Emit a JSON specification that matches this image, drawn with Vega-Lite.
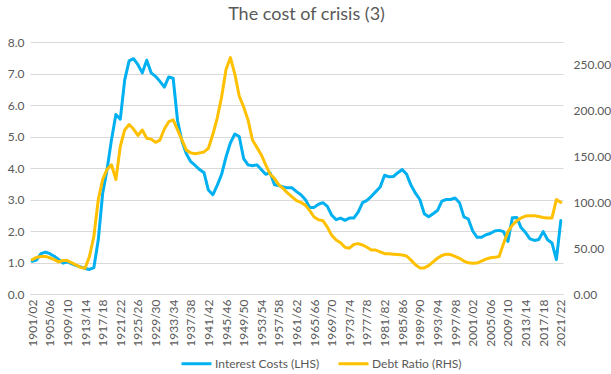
{
  "$schema": "https://vega.github.io/schema/vega-lite/v6.json",
  "width": 533,
  "height": 252,
  "autosize": {"type": "none"},
  "padding": {"left": 30, "top": 42, "right": 48, "bottom": 80},
  "background": "white",
  "title": {"text": "The cost of crisis (3)", "fontSize": 18, "font": "Lato", "fontWeight": "normal", "color": "#595959", "offset": 12, "dx": 10},
  "config": {
    "font": "Lato",
    "view": {"stroke": null},
    "axis": {"labelColor": "#595959", "labelFontSize": 12, "labelFont": "Lato", "ticks": false, "title": null},
    "legend": {"labelColor": "#595959", "labelFontSize": 12, "labelFont": "Lato"}
  },
  "data": {"values": [
    {"year": "1901/02", "ic": 1.04, "dr": 37.5},
    {"year": "1902/03", "ic": 1.08, "dr": 40},
    {"year": "1903/04", "ic": 1.28, "dr": 41},
    {"year": "1904/05", "ic": 1.33, "dr": 41},
    {"year": "1905/06", "ic": 1.28, "dr": 39.5},
    {"year": "1906/07", "ic": 1.2, "dr": 37.5},
    {"year": "1907/08", "ic": 1.1, "dr": 35},
    {"year": "1908/09", "ic": 0.98, "dr": 36.5},
    {"year": "1909/10", "ic": 1.02, "dr": 36.5},
    {"year": "1910/11", "ic": 0.96, "dr": 34},
    {"year": "1911/12", "ic": 0.9, "dr": 31.5},
    {"year": "1912/13", "ic": 0.86, "dr": 29},
    {"year": "1913/14", "ic": 0.81, "dr": 28},
    {"year": "1914/15", "ic": 0.78, "dr": 41},
    {"year": "1915/16", "ic": 0.84, "dr": 63},
    {"year": "1916/17", "ic": 1.72, "dr": 103},
    {"year": "1917/18", "ic": 3.2, "dr": 125},
    {"year": "1918/19", "ic": 3.95, "dr": 136},
    {"year": "1919/20", "ic": 4.9, "dr": 141},
    {"year": "1920/21", "ic": 5.7, "dr": 125},
    {"year": "1921/22", "ic": 5.55, "dr": 161},
    {"year": "1922/23", "ic": 6.8, "dr": 179},
    {"year": "1923/24", "ic": 7.4, "dr": 185},
    {"year": "1924/25", "ic": 7.47, "dr": 180},
    {"year": "1925/26", "ic": 7.28, "dr": 173},
    {"year": "1926/27", "ic": 7.02, "dr": 179},
    {"year": "1927/28", "ic": 7.42, "dr": 170},
    {"year": "1928/29", "ic": 7.02, "dr": 169},
    {"year": "1929/30", "ic": 6.91, "dr": 165.5},
    {"year": "1930/31", "ic": 6.75, "dr": 168},
    {"year": "1931/32", "ic": 6.57, "dr": 180},
    {"year": "1932/33", "ic": 6.89, "dr": 188},
    {"year": "1933/34", "ic": 6.85, "dr": 190},
    {"year": "1934/35", "ic": 5.5, "dr": 179},
    {"year": "1935/36", "ic": 4.85, "dr": 168},
    {"year": "1936/37", "ic": 4.45, "dr": 157},
    {"year": "1937/38", "ic": 4.2, "dr": 154},
    {"year": "1938/39", "ic": 4.08, "dr": 153},
    {"year": "1939/40", "ic": 3.95, "dr": 154},
    {"year": "1940/41", "ic": 3.85, "dr": 155},
    {"year": "1941/42", "ic": 3.3, "dr": 159},
    {"year": "1942/43", "ic": 3.15, "dr": 174},
    {"year": "1943/44", "ic": 3.45, "dr": 192},
    {"year": "1944/45", "ic": 3.8, "dr": 215},
    {"year": "1945/46", "ic": 4.35, "dr": 245},
    {"year": "1946/47", "ic": 4.8, "dr": 258},
    {"year": "1947/48", "ic": 5.08, "dr": 240},
    {"year": "1948/49", "ic": 5.0, "dr": 216},
    {"year": "1949/50", "ic": 4.3, "dr": 204},
    {"year": "1950/51", "ic": 4.1, "dr": 190},
    {"year": "1951/52", "ic": 4.07, "dr": 168},
    {"year": "1952/53", "ic": 4.1, "dr": 160},
    {"year": "1953/54", "ic": 3.95, "dr": 152},
    {"year": "1954/55", "ic": 3.8, "dr": 141},
    {"year": "1955/56", "ic": 3.85, "dr": 131},
    {"year": "1956/57", "ic": 3.47, "dr": 126},
    {"year": "1957/58", "ic": 3.44, "dr": 119},
    {"year": "1958/59", "ic": 3.4, "dr": 115},
    {"year": "1959/60", "ic": 3.37, "dr": 110},
    {"year": "1960/61", "ic": 3.37, "dr": 106},
    {"year": "1961/62", "ic": 3.25, "dr": 102},
    {"year": "1962/63", "ic": 3.15, "dr": 100},
    {"year": "1963/64", "ic": 3.0, "dr": 97},
    {"year": "1964/65", "ic": 2.75, "dr": 91},
    {"year": "1965/66", "ic": 2.75, "dr": 84},
    {"year": "1966/67", "ic": 2.85, "dr": 81},
    {"year": "1967/68", "ic": 2.9, "dr": 80},
    {"year": "1968/69", "ic": 2.78, "dr": 73},
    {"year": "1969/70", "ic": 2.5, "dr": 64},
    {"year": "1970/71", "ic": 2.36, "dr": 59},
    {"year": "1971/72", "ic": 2.41, "dr": 56},
    {"year": "1972/73", "ic": 2.34, "dr": 51},
    {"year": "1973/74", "ic": 2.41, "dr": 50},
    {"year": "1974/75", "ic": 2.41, "dr": 54},
    {"year": "1975/76", "ic": 2.6, "dr": 55},
    {"year": "1976/77", "ic": 2.9, "dr": 53.5},
    {"year": "1977/78", "ic": 2.97, "dr": 51},
    {"year": "1978/79", "ic": 3.1, "dr": 48},
    {"year": "1979/80", "ic": 3.25, "dr": 48},
    {"year": "1980/81", "ic": 3.4, "dr": 46},
    {"year": "1981/82", "ic": 3.77, "dr": 44},
    {"year": "1982/83", "ic": 3.72, "dr": 44},
    {"year": "1983/84", "ic": 3.73, "dr": 43.5},
    {"year": "1984/85", "ic": 3.85, "dr": 43},
    {"year": "1985/86", "ic": 3.95, "dr": 42.5},
    {"year": "1986/87", "ic": 3.8, "dr": 41.5},
    {"year": "1987/88", "ic": 3.45, "dr": 37},
    {"year": "1988/89", "ic": 3.2, "dr": 32},
    {"year": "1989/90", "ic": 3.0, "dr": 28.5},
    {"year": "1990/91", "ic": 2.55, "dr": 28.5},
    {"year": "1991/92", "ic": 2.45, "dr": 31},
    {"year": "1992/93", "ic": 2.55, "dr": 35},
    {"year": "1993/94", "ic": 2.65, "dr": 39},
    {"year": "1994/95", "ic": 2.95, "dr": 42},
    {"year": "1995/96", "ic": 3.0, "dr": 43.5},
    {"year": "1996/97", "ic": 3.0, "dr": 43},
    {"year": "1997/98", "ic": 3.05, "dr": 41},
    {"year": "1998/99", "ic": 2.9, "dr": 39},
    {"year": "1999/00", "ic": 2.45, "dr": 36},
    {"year": "2000/01", "ic": 2.38, "dr": 34},
    {"year": "2001/02", "ic": 2.0, "dr": 33.5},
    {"year": "2002/03", "ic": 1.8, "dr": 33.8},
    {"year": "2003/04", "ic": 1.8, "dr": 36},
    {"year": "2004/05", "ic": 1.88, "dr": 38},
    {"year": "2005/06", "ic": 1.92, "dr": 39.5},
    {"year": "2006/07", "ic": 2.0, "dr": 40},
    {"year": "2007/08", "ic": 2.02, "dr": 41},
    {"year": "2008/09", "ic": 1.98, "dr": 55},
    {"year": "2009/10", "ic": 1.67, "dr": 68},
    {"year": "2010/11", "ic": 2.42, "dr": 75},
    {"year": "2011/12", "ic": 2.43, "dr": 80},
    {"year": "2012/13", "ic": 2.1, "dr": 83},
    {"year": "2013/14", "ic": 1.95, "dr": 85},
    {"year": "2014/15", "ic": 1.75, "dr": 85.5},
    {"year": "2015/16", "ic": 1.7, "dr": 85.5},
    {"year": "2016/17", "ic": 1.73, "dr": 84.5},
    {"year": "2017/18", "ic": 1.98, "dr": 83.5},
    {"year": "2018/19", "ic": 1.72, "dr": 83},
    {"year": "2019/20", "ic": 1.62, "dr": 83},
    {"year": "2020/21", "ic": 1.09, "dr": 103},
    {"year": "2021/22", "ic": 2.33, "dr": 100}
  ]},
  "encoding": {
    "x": {
      "field": "year", "type": "ordinal",
      "scale": {"type": "point", "padding": 0.5},
      "axis": {
        "labelAngle": -90, "grid": false, "domainColor": "#D9D9D9", "labelPadding": 5,
        "values": ["1901/02","1905/06","1909/10","1913/14","1917/18","1921/22","1925/26","1929/30","1933/34","1937/38","1941/42","1945/46","1949/50","1953/54","1957/58","1961/62","1965/66","1969/70","1973/74","1977/78","1981/82","1985/86","1989/90","1993/94","1997/98","2001/02","2005/06","2009/10","2013/14","2017/18","2021/22"]
      }
    }
  },
  "layer": [
    {
      "mark": {"type": "line", "strokeWidth": 3, "strokeJoin": "round", "strokeCap": "round"},
      "encoding": {
        "y": {
          "field": "ic", "type": "quantitative",
          "scale": {"domain": [0, 8], "nice": false},
          "axis": {"orient": "left", "values": [0,1,2,3,4,5,6,7,8], "format": ".1f", "grid": true, "gridColor": "#D9D9D9", "domain": false, "labelPadding": 6}
        },
        "color": {
          "datum": "Interest Costs (LHS)", "type": "nominal",
          "scale": {"domain": ["Interest Costs (LHS)", "Debt Ratio (RHS)"], "range": ["#00B0F0", "#FFC000"]},
          "legend": {"title": null, "orient": "none", "legendX": 150, "legendY": 305, "direction": "horizontal", "symbolType": "stroke", "symbolStrokeWidth": 3, "symbolSize": 900, "columnPadding": 12, "labelOffset": 2}
        }
      }
    },
    {
      "mark": {"type": "line", "strokeWidth": 3, "strokeJoin": "round", "strokeCap": "round"},
      "encoding": {
        "y": {
          "field": "dr", "type": "quantitative",
          "scale": {"domain": [0, 275], "nice": false},
          "axis": {"orient": "right", "values": [0,50,100,150,200,250], "format": ".2f", "grid": false, "domain": false, "labelPadding": 10}
        },
        "color": {"datum": "Debt Ratio (RHS)", "type": "nominal"}
      }
    }
  ],
  "resolve": {"scale": {"y": "independent"}}
}
